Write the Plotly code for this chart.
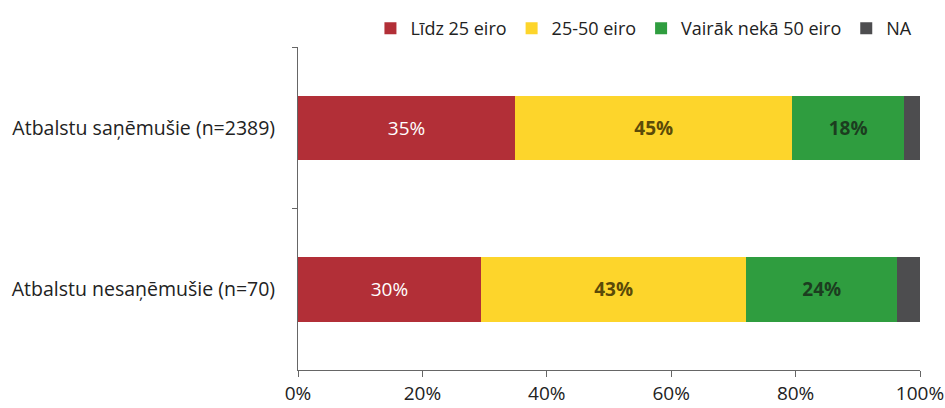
import plotly.graph_objects as go

groups = ["Atbalstu saņēmušie (n=2389)", "Atbalstu nesaņēmušie (n=70)"]
series = ["Līdz 25 eiro", "25-50 eiro", "Vairāk nekā 50 eiro", "NA"]
values = [
    [34.9, 29.4],   # Līdz 25 eiro
    [44.6, 42.7],   # 25-50 eiro
    [17.9, 24.2],   # Vairāk nekā 50 eiro
    [2.6, 3.7],     # NA
]
labels = [
    ["35%", "30%"],
    ["45%", "43%"],
    ["18%", "24%"],
    ["", ""],
]
colors = ["#b22f37", "#fdd52b", "#2f9d3f", "#4d4d4f"]
text_colors = ["white", "#5b4a08", "#1c3d1f", "white"]
text_bold = [False, True, True, False]

fig = go.Figure()

for name, vals, txt, col, tcol, bold in zip(series, values, labels, colors, text_colors, text_bold):
    fig.add_trace(go.Bar(
        y=groups,
        x=vals,
        name=name,
        orientation="h",
        marker=dict(color=col, line=dict(width=0)),
        text=[f"<b>{t}</b>" if bold and t else t for t in txt],
        textposition="inside",
        insidetextanchor="middle",
        textangle=0,
        textfont=dict(color=tcol, size=19, family="Open Sans"),
        hoverinfo="x+name",
    ))

fig.update_layout(
    barmode="stack",
    bargap=0.6,
    width=945,
    height=408,
    margin=dict(l=298, r=25, t=45, b=38),
    paper_bgcolor="white",
    plot_bgcolor="white",
    font=dict(family="Open Sans", size=18, color="#222"),
    showlegend=True,
    legend=dict(
        orientation="h",
        x=0.392, xanchor="left", xref="container",
        y=0.93, yanchor="middle", yref="container",
        font=dict(size=18, color="#222"),
        itemwidth=30,
        traceorder="normal",
    ),
    uniformtext=dict(minsize=10, mode="show"),
)

fig.update_xaxes(
    range=[0, 100],
    tickvals=[0, 20, 40, 60, 80, 100],
    ticktext=["0%", "20%", "40%", "60%", "80%", "100%"],
    ticks="outside",
    ticklen=6,
    tickcolor="#666",
    showline=True,
    linecolor="#666",
    linewidth=1,
    showgrid=False,
    zeroline=False,
    tickfont=dict(size=19, color="#222"),
    ticklabeloverflow="allow",
    automargin=False,
    fixedrange=True,
)

fig.update_yaxes(
    autorange="reversed",
    ticks="outside",
    tickson="boundaries",
    ticklen=5,
    tickcolor="#666",
    showline=True,
    linecolor="#666",
    linewidth=1,
    showgrid=False,
    tickfont=dict(size=19.5, color="#222"),
    ticklabelstandoff=18,
    automargin=False,
    fixedrange=True,
)

fig.write_html(
    "out.html",
    config={"displayModeBar": False},
    post_script="document.body.style.margin='0';",
)
